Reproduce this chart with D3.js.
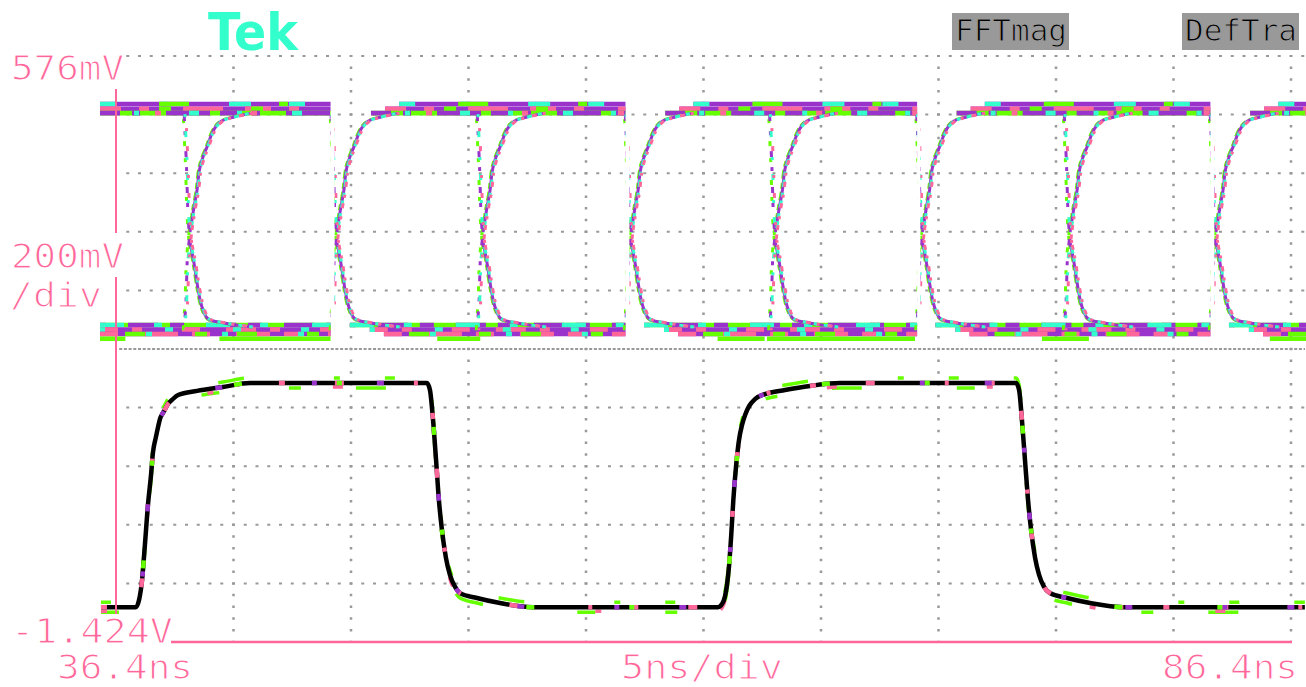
<!DOCTYPE html>
<html>
<head>
<meta charset="utf-8">
<script src="https://cdn.jsdelivr.net/npm/d3@7"></script>
<style>
  html, body { margin: 0; padding: 0; background: #ffffff; }
  svg { display: block; }
</style>
</head>
<body>
<svg id="scope" width="1306" height="687"></svg>
<script>
// ---- Screen settings -------------------------------------------------------
const timeStartNs = 36.4, timeEndNs = 86.4;      // 5 ns/div, 10 divisions
const voltTopMv = 576, voltBottomMv = -1424;     // 200 mV/div, 10 divisions
const divisionsX = 10, divisionsY = 10;

// ---- Labels ----------------------------------------------------------------
const voltLabels = ["576mV", "200mV", "/div", "-1.424V"];
const timeLabels = ["36.4ns", "5ns/div", "86.4ns"];
const menuLabels = ["FFTmag", "DefTra"];
const brandLabel = "Tek";

// ---- Upper trace (persistence eye) ----------------------------------------
// crossing times of the data edges, ns
const edgeTimes = [39.55, 45.80, 52.02, 58.32, 64.46, 70.72, 77.00, 83.21];
// acquired record spans shown on screen, ns
const recordSpans = [[35.72, 45.53], [45.70, 58.08], [58.25, 70.49], [70.63, 82.97], [83.14, 87.04]];
// edge shapes: [ns from crossing, mV]; the first four points are the fast part
const riseProfile = [[-0.25, -360], [-0.17, -260], [-0.12, -120], [0, -25], [0.17, 61], [0.30, 119],
                     [0.38, 177], [0.51, 221], [0.72, 265], [0.94, 313], [1.28, 351], [1.87, 368], [2.64, 381]];
const fallProfile = [[-0.25, 381], [-0.15, 200], [-0.09, 33], [0, -62], [0.17, -131], [0.30, -199],
                     [0.43, -257], [0.60, -301], [0.85, -325], [1.45, -335], [2.64, -349]];
const fastPointCount = 4;
// spread of the crossings between acquisitions, ns
const edgeJitterNs = [-0.04, 0, 0.03, 0.07];
// settled rails, mV, and where each row is lit, ns
const topRailLevels = [412, 396, 381];
const topRailSpans = [
  [[35.72, 45.53], [48.45, 58.08], [60.97, 70.49], [73.37, 82.97], [85.86, 87.04]],
  [[35.72, 45.53], [47.85, 58.08], [60.37, 70.49], [72.77, 82.97], [85.26, 87.04]],
  [[35.72, 45.53], [47.25, 58.08], [59.77, 70.49], [72.17, 82.97], [84.66, 87.04]]
];
const bottomRailLevels = [-342, -358, -373, -389];
const bottomRailSpans = [
  [[35.72, 45.53], [46.35, 58.08], [58.87, 70.49], [71.27, 82.97], [83.76, 87.04]],
  [[35.72, 45.53], [47.20, 58.08], [59.72, 70.49], [72.12, 82.97], [84.61, 87.04]],
  [[35.72, 45.53], [47.80, 58.08], [60.32, 70.49], [72.72, 82.97], [85.21, 87.04]],
  [[35.72, 36.80], [40.80, 45.53], [50.07, 51.90], [62.00, 64.00], [64.10, 70.40], [75.80, 77.80], [85.50, 87.04]]
];

// ---- Lower trace (reference clock), [ns, mV] -------------------------------
const lowerTrace = [
  [35.76, -1305], [37.25, -1305], [37.38, -1281], [37.51, -1212], [37.63, -1093], [37.76, -956],
  [37.89, -854], [37.97, -779], [38.10, -724], [38.19, -690], [38.27, -663], [38.40, -642],
  [38.49, -629], [38.61, -612], [38.78, -598], [39.04, -581], [39.85, -567], [40.95, -554],
  [42.10, -540], [49.63, -540], [49.76, -564], [49.89, -666], [50.02, -803], [50.14, -939],
  [50.27, -1042], [50.44, -1137], [50.61, -1195], [50.83, -1236], [51.04, -1257], [51.76, -1274],
  [52.74, -1291], [54.14, -1305], [62.02, -1305], [62.19, -1294], [62.31, -1270], [62.40, -1229],
  [62.49, -1161], [62.58, -1059], [62.67, -939], [62.79, -820], [62.91, -735], [63.04, -683],
  [63.17, -649], [63.34, -619], [63.59, -595], [64.02, -578], [64.87, -564], [65.93, -550],
  [67.21, -540], [74.70, -540], [74.83, -564], [74.95, -666], [75.08, -803], [75.21, -939],
  [75.34, -1042], [75.51, -1137], [75.68, -1195], [75.89, -1236], [76.14, -1257], [76.87, -1274],
  [77.85, -1291], [79.25, -1305], [86.99, -1305]
];

// ---- Colours ---------------------------------------------------------------
const PURPLE = "#9933cc", PINK = "#ff6699", GREEN = "#66ff00", CYAN = "#33ffcc";
const GRID = "#999999", AXIS = "#ff6699", BLACK = "#000000";

// ---- Scales ----------------------------------------------------------------
const svg = d3.select("#scope");
const x = d3.scaleLinear().domain([timeStartNs, timeEndNs]).range([116, 1291]);
const y = d3.scaleLinear().domain([voltTopMv, voltBottomMv]).range([56, 642]);
const divW = (x.range()[1] - x.range()[0]) / divisionsX;
const divH = (y.range()[1] - y.range()[0]) / divisionsY;
const trace = d3.line().x(d => x(d[0])).y(d => y(d[1])).curve(d3.curveMonotoneX);
const straight = d3.line().x(d => x(d[0])).y(d => y(d[1]));

// ---- Graticule -------------------------------------------------------------
const grid = svg.append("g").attr("class", "graticule");
const gridVolts = d3.range(0, divisionsY).map(i => voltTopMv - i * (voltTopMv - voltBottomMv) / divisionsY);
const gridTimes = d3.range(1, divisionsX + 1).map(i => timeStartNs + i * (timeEndNs - timeStartNs) / divisionsX);

gridVolts.forEach((v, i) => {
  const centre = i === divisionsY / 2;
  const step = centre ? divW / 25 : divW / 10;
  grid.append("line")
    .attr("x1", x.range()[0] + step - 1.5).attr("x2", 1305)
    .attr("y1", y(v)).attr("y2", y(v))
    .attr("stroke", GRID).attr("stroke-width", 2)
    .attr("stroke-dasharray", `3 ${step - 3}`);
});
gridTimes.forEach(t => {
  const step = divH / 5;
  grid.append("line")
    .attr("x1", x(t)).attr("x2", x(t))
    .attr("y1", y.range()[0] + step - 1.25).attr("y2", y.range()[1] - 1)
    .attr("stroke", GRID).attr("stroke-width", 2.5)
    .attr("stroke-dasharray", `2.5 ${step - 2.5}`);
});

// ---- Upper trace -----------------------------------------------------------
const upper = svg.append("g").attr("class", "upper-trace");
const defs = svg.append("defs");
recordSpans.forEach((s, i) => {
  defs.append("clipPath").attr("id", "rec" + i)
    .append("rect")
    .attr("x", x(s[0])).attr("width", x(s[1]) - x(s[0]))
    .attr("y", 40).attr("height", 330);
});

function railRow(g, level, spans, base, overlays) {
  spans.forEach(s => {
    const d = straight([[s[0], level], [s[1], level]]);
    g.append("path").attr("d", d)
      .attr("stroke", base).attr("stroke-width", 4.6).attr("fill", "none");
    overlays.forEach(o => {
      g.append("path").attr("d", d)
        .attr("stroke", o[0]).attr("stroke-width", 4.6).attr("fill", "none")
        .attr("stroke-dasharray", o[1]).attr("stroke-dashoffset", o[2] || 0);
    });
  });
}

const topStyles = [
  [PURPLE, [[CYAN, "16 45 8 60 22 38", 0], [GREEN, "9 70 30 90", 20]]],
  [PURPLE, [[PINK, "26 18 10 34 40 22", 5], [GREEN, "12 80", 33]]],
  [GREEN,  [[PURPLE, "20 12 8 26 44 10", 0], [CYAN, "10 38 5 50", 14], [PINK, "6 90", 41]]]
];
const bottomStyles = [
  [GREEN,  [[PURPLE, "14 22 30 12", 8], [CYAN, "24 30 8 44", 0]]],
  [PURPLE, [[PINK, "30 14 10 40 18 26", 12], [CYAN, "8 60", 3]]],
  [PURPLE, [[PINK, "18 26 34 14", 0], [GREEN, "12 30 20 50", 17], [CYAN, "6 70", 30]]],
  [GREEN,  []]
];
topRailLevels.forEach((lv, i) => railRow(upper, lv, topRailSpans[i], topStyles[i][0], topStyles[i][1]));
bottomRailLevels.forEach((lv, i) => railRow(upper, lv, bottomRailSpans[i], bottomStyles[i][0], bottomStyles[i][1]));

const edgeColours = [GREEN, PURPLE, CYAN, PINK];
const slowDashes = ["6 4 9 3", "none", "4 6 7 4", "3 8 5 6"];
const fastDashes = ["5 12 4 18", "4 16 6 10", "6 20 3 14", "3 15 5 24"];
recordSpans.forEach((s, i) => {
  const g = upper.append("g").attr("clip-path", `url(#rec${i})`);
  edgeTimes.filter(t => t > s[0] - 3 && t < s[1] + 0.5).forEach(te => {
    edgeJitterNs.forEach((dj, k) => {
      [riseProfile, fallProfile].forEach((prof, pi) => {
        const pts = prof.map(p => [te + dj + p[0], p[1]]);
        g.append("path")
          .attr("d", straight(pts.slice(0, fastPointCount)))
          .attr("fill", "none").attr("stroke", edgeColours[k]).attr("stroke-width", 3)
          .attr("stroke-dasharray", fastDashes[k]).attr("stroke-dashoffset", k * 7 + pi * 11);
        g.append("path")
          .attr("d", trace(pts.slice(fastPointCount - 1)))
          .attr("fill", "none").attr("stroke", edgeColours[k]).attr("stroke-width", 3)
          .attr("stroke-dasharray", slowDashes[k]).attr("stroke-dashoffset", k * 3);
      });
    });
  });
});

// ---- Lower trace -----------------------------------------------------------
const lower = svg.append("g").attr("class", "lower-trace");
const lowerPath = trace(lowerTrace);
[[GREEN, -5, "10 55 26 90 6 45"], [GREEN, 5, "18 70 12 55 30 95"], [PINK, 4, "6 120 10 150"]]
  .forEach(([c, dy, dash]) => {
    lower.append("path").attr("d", lowerPath).attr("transform", `translate(0,${dy})`)
      .attr("fill", "none").attr("stroke", c).attr("stroke-width", 3.5)
      .attr("stroke-dasharray", dash);
  });
lower.append("path").attr("d", lowerPath)
  .attr("fill", "none").attr("stroke", BLACK).attr("stroke-width", 4.5);
[[PINK, "6 50 9 70 4 40", 0], [PURPLE, "7 90 5 60", 30], [GREEN, "5 130 8 95", 60]].forEach(([c, dash, off]) => {
  lower.append("path").attr("d", lowerPath)
    .attr("fill", "none").attr("stroke", c).attr("stroke-width", 4.5)
    .attr("stroke-dasharray", dash).attr("stroke-dashoffset", off);
});

// ---- Axes and readouts -----------------------------------------------------
const axes = svg.append("g").attr("class", "axes");
axes.append("line").attr("x1", 116).attr("x2", 116).attr("y1", 89).attr("y2", 233)
  .attr("stroke", AXIS).attr("stroke-width", 2);
axes.append("line").attr("x1", 116).attr("x2", 116).attr("y1", 277).attr("y2", 614)
  .attr("stroke", AXIS).attr("stroke-width", 2);
axes.append("line").attr("x1", 171).attr("x2", 1292).attr("y1", y(voltBottomMv)).attr("y2", y(voltBottomMv))
  .attr("stroke", AXIS).attr("stroke-width", 2.5);

const mono = "'DejaVu Sans Mono', 'Liberation Mono', monospace";
// a thin stroke in the backdrop colour keeps the readout glyphs light
function label(txt, xPos, yPos, len, size, colour, backdrop) {
  return svg.append("text").text(txt)
    .attr("x", xPos).attr("y", yPos)
    .attr("textLength", len).attr("lengthAdjust", "spacingAndGlyphs")
    .attr("font-family", mono).attr("font-size", size).attr("fill", colour)
    .attr("stroke", backdrop).attr("stroke-width", 1.1);
}
label(voltLabels[0], 11, 80, 113, 34, AXIS, "#ffffff");
label(voltLabels[1], 11, 268, 113, 34, AXIS, "#ffffff");
label(voltLabels[2], 10, 307, 92, 34, AXIS, "#ffffff");
label(voltLabels[3], 11, 643, 162, 34, AXIS, "#ffffff");
label(timeLabels[0], 57, 678.5, 136, 34, AXIS, "#ffffff");
label(timeLabels[1], 621, 678.5, 162, 34, AXIS, "#ffffff");
label(timeLabels[2], 1162, 678.5, 136, 34, AXIS, "#ffffff");

const menuX = [952, 1182];
menuLabels.forEach((m, i) => {
  svg.append("rect").attr("x", menuX[i]).attr("y", 13).attr("width", 117).attr("height", 37).attr("fill", GRID);
  label(m, menuX[i] + 3, 41, 112, 31, BLACK, GRID);
});

svg.append("text").text(brandLabel)
  .attr("x", 208).attr("y", 50)
  .attr("textLength", 90).attr("lengthAdjust", "spacingAndGlyphs")
  .attr("font-family", "'DejaVu Sans', sans-serif").attr("font-weight", "bold")
  .attr("font-size", 51).attr("fill", CYAN);
</script>
</body>
</html>
